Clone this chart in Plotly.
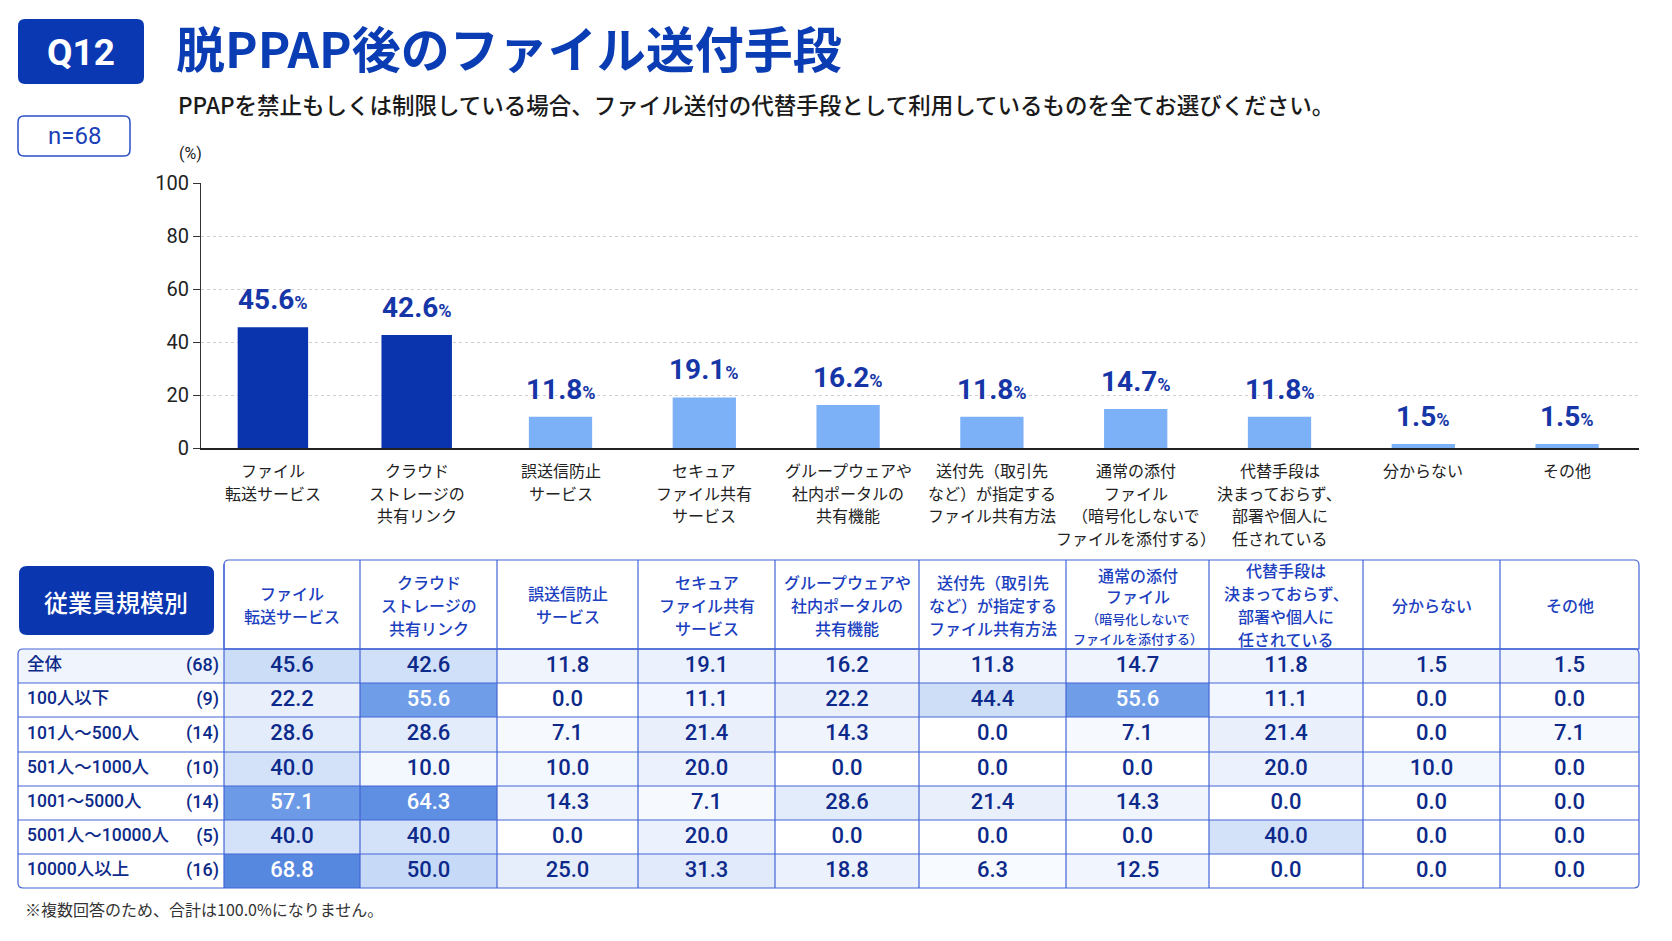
import plotly.graph_objects as go

W, H = 1672, 941

# ---- data ----
categories = [
    "ファイル<br>転送サービス",
    "クラウド<br>ストレージの<br>共有リンク",
    "誤送信防止<br>サービス",
    "セキュア<br>ファイル共有<br>サービス",
    "グループウェアや<br>社内ポータルの<br>共有機能",
    "送付先（取引先<br>など）が指定する<br>ファイル共有方法",
    "通常の添付<br>ファイル<br>（暗号化しないで<br>ファイルを添付する）",
    "代替手段は<br>決まっておらず、<br>部署や個人に<br>任されている",
    "分からない",
    "その他",
]
overall_pct = [45.6, 42.6, 11.8, 19.1, 16.2, 11.8, 14.7, 11.8, 1.5, 1.5]

size_groups = ["全体", "100人以下", "101人～500人", "501人～1000人",
               "1001～5000人", "5001人～10000人", "10000人以上"]
group_n = [68, 9, 14, 10, 14, 5, 16]
group_pct = [
    [22.2, 55.6, 0.0, 11.1, 22.2, 44.4, 55.6, 11.1, 0.0, 0.0],
    [28.6, 28.6, 7.1, 21.4, 14.3, 0.0, 7.1, 21.4, 0.0, 7.1],
    [40.0, 10.0, 10.0, 20.0, 0.0, 0.0, 0.0, 20.0, 10.0, 0.0],
    [57.1, 64.3, 14.3, 7.1, 28.6, 21.4, 14.3, 0.0, 0.0, 0.0],
    [40.0, 40.0, 0.0, 20.0, 0.0, 0.0, 0.0, 40.0, 0.0, 0.0],
    [68.8, 50.0, 25.0, 31.3, 18.8, 6.3, 12.5, 0.0, 0.0, 0.0],
]
y_ticks = [0, 20, 40, 60, 80, 100]

# ---- styles / layout constants ----
DARK = "#0a34ae"
LIGHT = "#7db1f7"
NAVY = "#0d2a8a"
BLUE_TXT = "#1c3fbf"
LINE = "#4464d6"
JP = "Noto Sans CJK JP"
NUM = "Roboto, Noto Sans CJK JP"

# vertical pixel frame of the layout helper axis (top/bottom of the page as photographed)
Y_TOP, Y_BOT = 11, 928


def py(y):
    # page pixel -> paper fraction
    return (Y_BOT - y) / (Y_BOT - Y_TOP)


col_edges = [18, 224, 360, 497, 638, 775, 919, 1066, 1209, 1363, 1500, 1639]
header_top, header_bot = 559, 648
row_edges = [648, 682, 716, 751, 785, 819, 853, 887]

fig = go.Figure()

# ---- bar chart ----
second = sorted(overall_pct, reverse=True)[1]
bar_colors = [DARK if v >= second else LIGHT for v in overall_pct]
bar_widths = [0.49 if v >= second else 0.44 for v in overall_pct]
fig.add_trace(go.Bar(x=categories, y=overall_pct, marker=dict(color=bar_colors, line=dict(width=0)),
                     width=bar_widths, hoverinfo="skip", showlegend=False))

annotations = []
for cat, v in zip(categories, overall_pct):
    annotations.append(dict(
        x=cat, y=v, xref="x", yref="y", yanchor="bottom", yshift=9, showarrow=False,
        text=f"<b>{v:.1f}</b><span style='font-size:18px'><b>%</b></span>",
        font=dict(family=NUM, size=28, color="#1636a8")))
    # category labels under the axis, one annotation per line
    for i, line in enumerate(cat.split("<br>")):
        annotations.append(dict(
            x=cat, y=469 + 22.5 * i, xref="x", yref="y2", showarrow=False,
            text=line, font=dict(family=JP, size=16, color="#222222")))

# ---- table ----
all_rows = [overall_pct] + group_pct
z = []
for r, row in enumerate(all_rows):
    if r == 0:
        z.append([14] + [max(v, 14) for v in row])
    else:
        z.append([0] + list(row))

scale = [
    [0.0, "#ffffff"], [10 / 70, "#f3f7fe"], [30 / 70, "#e2ebfb"], [50 / 70, "#c6d9f6"],
    [50.5 / 70, "#7ba6eb"], [60 / 70, "#6695e4"], [1.0, "#5586df"],
]
fig.add_trace(go.Heatmap(x=col_edges, y=row_edges, z=z, colorscale=scale, zmin=0, zmax=70,
                         showscale=False, hoverinfo="skip", xaxis="x2", yaxis="y2"))

col_mid = [(col_edges[i] + col_edges[i + 1]) / 2 for i in range(1, len(col_edges) - 1)]
row_mid = [(row_edges[i] + row_edges[i + 1]) / 2 for i in range(len(row_edges) - 1)]

cx, cy, ct, cc = [], [], [], []
for r, row in enumerate(all_rows):
    for c, v in enumerate(row):
        cx.append(col_mid[c])
        cy.append(row_mid[r])
        ct.append(f"{v:.1f}")
        cc.append("#ffffff" if v > 50 else NAVY)
fig.add_trace(go.Scatter(x=cx, y=cy, text=ct, mode="text", textposition="middle center",
                         textfont=dict(family=NUM, size=22, color=cc, weight=500),
                         hoverinfo="skip", showlegend=False, xaxis="x2", yaxis="y2"))

fig.add_trace(go.Scatter(x=[27] * len(size_groups), y=row_mid, text=size_groups, mode="text",
                         textposition="middle right",
                         textfont=dict(family=NUM, size=17.5, color=NAVY, weight=500),
                         hoverinfo="skip", showlegend=False, xaxis="x2", yaxis="y2"))
fig.add_trace(go.Scatter(x=[219] * len(group_n), y=row_mid, text=[f"({n})" for n in group_n],
                         mode="text", textposition="middle left",
                         textfont=dict(family=NUM, size=18, color=NAVY, weight=500),
                         hoverinfo="skip", showlegend=False, xaxis="x2", yaxis="y2"))

# header labels
header_mid = (header_top + header_bot) / 2
for c, cat in enumerate(categories):
    lines = cat.split("<br>")
    if c == 6:
        # mixed sizes: one text block so the lines keep plotly's own spacing
        text = "<br>".join(l if i < 2 else f"<span style='font-size:13px'>{l}</span>"
                           for i, l in enumerate(lines))
        annotations.append(dict(
            x=col_mid[c], y=header_mid + 1, xref="x2", yref="y2", showarrow=False, text=text,
            font=dict(family=JP, size=16, color=BLUE_TXT, weight=500)))
        continue
    n = len(lines)
    for i, line in enumerate(lines):
        annotations.append(dict(
            x=col_mid[c], y=header_mid + (i - (n - 1) / 2) * 23, xref="x2", yref="y2",
            showarrow=False, text=line, font=dict(family=JP, size=16, color=BLUE_TXT, weight=500)))


def rounded(x0, y0, x1, y1, r, tl=True, tr=True, br=True, bl=True):
    p = f"M {x0 + (r if tl else 0)},{y0} L {x1 - (r if tr else 0)},{y0} "
    p += f"Q {x1},{y0} {x1},{y0 + r} " if tr else ""
    p += f"L {x1},{y1 - (r if br else 0)} "
    p += f"Q {x1},{y1} {x1 - r},{y1} " if br else ""
    p += f"L {x0 + (r if bl else 0)},{y1} "
    p += f"Q {x0},{y1} {x0},{y1 - r} " if bl else ""
    p += f"L {x0},{y0 + (r if tl else 0)} "
    p += f"Q {x0},{y0} {x0 + r},{y0} " if tl else ""
    return p + "Z"


shapes = []
ln = dict(color=LINE, width=1.2)
for y in row_edges[1:-1]:
    shapes.append(dict(type="line", xref="x2", yref="y2", x0=col_edges[0], x1=col_edges[-1],
                       y0=y, y1=y, line=ln, layer="above"))
shapes.append(dict(type="line", xref="x2", yref="y2", x0=col_edges[1], x1=col_edges[-1],
                   y0=header_bot, y1=header_bot, line=ln, layer="above"))
for x in col_edges[2:-1]:
    shapes.append(dict(type="line", xref="x2", yref="y2", x0=x, x1=x, y0=header_top,
                       y1=row_edges[-1], line=ln, layer="above"))
shapes.append(dict(type="line", xref="x2", yref="y2", x0=col_edges[1], x1=col_edges[1],
                   y0=header_top + 4, y1=row_edges[-1], line=ln, layer="above"))
shapes.append(dict(type="path", xref="x2", yref="y2", layer="above", line=ln,
                   path=rounded(col_edges[0], row_edges[0], col_edges[-1], row_edges[-1], 5)))
shapes.append(dict(type="path", xref="x2", yref="y2", layer="above", line=ln,
                   path=rounded(col_edges[1], header_top, col_edges[-1], header_bot, 5,
                                br=False, bl=False)))

# title boxes
shapes.append(dict(type="path", xref="x2", yref="y2", layer="above", fillcolor="#0a38b2",
                   line=dict(width=0), path=rounded(18, 18, 144, 83, 7)))
shapes.append(dict(type="path", xref="x2", yref="y2", layer="above", fillcolor="#ffffff",
                   line=dict(color="#2a4fc8", width=1.5), path=rounded(18, 115, 130, 155, 6)))
shapes.append(dict(type="path", xref="x2", yref="y2", layer="above", fillcolor="#0a36b0",
                   line=dict(width=0), path=rounded(19, 565, 214, 634, 8)))

annotations += [
    dict(x=81, y=51, text="<b>Q12</b>", font=dict(family="Roboto", size=37, color="white")),
    dict(x=174, y=45, xanchor="left", text="<b>脱PPAP後のファイル送付手段</b>",
         font=dict(family=JP, size=49, color="#0a3cb4")),
    dict(x=176, y=103, xanchor="left",
         text="PPAPを禁止もしくは制限している場合、ファイル送付の代替手段として利用しているものを全てお選びください。",
         font=dict(family=JP, size=22.5, color="#1a1a1a", weight=500)),
    dict(x=74, y=135, text="n=68", font=dict(family="Roboto", size=24, color="#1a3fb8")),
    dict(x=190, y=152, text="(%)", font=dict(family=NUM, size=16, color="#222222")),
    dict(x=116, y=600, text="従業員規模別", font=dict(family=JP, size=24, color="white", weight=500)),
    dict(x=23, y=908, xanchor="left", text="※複数回答のため、合計は100.0%になりません。",
         font=dict(family=JP, size=16, color="#333333")),
]
for a in annotations[-7:]:
    a.update(xref="x2", yref="y2", showarrow=False)

fig.update_layout(
    width=W, height=H, margin=dict(l=0, r=0, t=0, b=0, pad=0),
    paper_bgcolor="white", plot_bgcolor="rgba(0,0,0,0)",
    showlegend=False,
    xaxis=dict(domain=[201 / W, 1639 / W], anchor="y", range=[-0.5, 9.5], showticklabels=False,
               ticks="", showgrid=False, showline=True, linecolor="#222222", linewidth=2,
               fixedrange=True),
    yaxis=dict(domain=[py(447), py(182)], anchor="x", range=[0, 100], tickvals=y_ticks,
               showgrid=True, gridcolor="#cfcfcf", griddash="3px,3px", gridwidth=1,
               showline=True, linecolor="#333333", linewidth=1.2, ticks="outside", ticklen=7,
               tickcolor="#333333", tickfont=dict(family="Roboto", size=20, color="#222222"),
               zeroline=False, fixedrange=True),
    xaxis2=dict(domain=[0, 1], anchor="y2", range=[0, W], visible=False, fixedrange=True),
    yaxis2=dict(domain=[0, 1], anchor="x2", range=[Y_BOT, Y_TOP], visible=False, fixedrange=True),
    shapes=shapes,
    annotations=annotations,
)

fig.write_html("out.html", config={"displayModeBar": False},
               post_script="document.body.style.margin='0';")
